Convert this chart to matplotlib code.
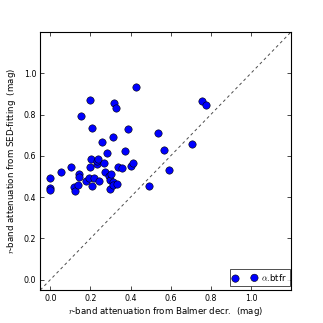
import numpy as np
import matplotlib
matplotlib.use('Agg')
import matplotlib.pyplot as plt

plt.rcParams['mathtext.fontset'] = 'cm'

# attenuation values
balmer = [0.0, 0.0, 0.0, 0.055, 0.102, 0.142, 0.145, 0.119, 0.121, 0.140,
          0.152, 0.180, 0.193, 0.200, 0.198, 0.205, 0.210, 0.208, 0.217, 0.233,
          0.233, 0.240, 0.245, 0.258, 0.268, 0.274, 0.284, 0.293, 0.298, 0.298,
          0.301, 0.312, 0.316, 0.326, 0.314, 0.311, 0.331, 0.337, 0.355, 0.372,
          0.388, 0.400, 0.410, 0.428, 0.493, 0.537, 0.567, 0.592, 0.706, 0.754,
          0.776]
sed = [0.495, 0.442, 0.434, 0.524, 0.545, 0.510, 0.497, 0.447, 0.431, 0.458,
       0.792, 0.476, 0.494, 0.871, 0.548, 0.585, 0.734, 0.452, 0.494, 0.560,
       0.576, 0.584, 0.479, 0.669, 0.566, 0.523, 0.613, 0.500, 0.482, 0.437,
       0.510, 0.689, 0.855, 0.834, 0.474, 0.460, 0.463, 0.544, 0.540, 0.623,
       0.729, 0.553, 0.566, 0.934, 0.456, 0.713, 0.627, 0.529, 0.656, 0.866,
       0.848]
lims = [-0.05, 1.2]
ticks = [0.0, 0.2, 0.4, 0.6, 0.8, 1.0]

fig = plt.figure(figsize=(3.23, 3.23), dpi=100)
ax = fig.add_axes([40.3/323, 1 - 290/323, 250.7/323, 258/323])

ax.scatter(balmer, sed, s=28, c='#0000ff', edgecolors='k', linewidths=0.4,
           label=r'$\alpha$.btfr', zorder=3)
ax.plot(lims, lims, ls='--', color='0.3', lw=0.7, dashes=(3, 3))

ax.set_xlim(lims)
ax.set_ylim(lims)
ax.set_xticks(ticks)
ax.set_yticks(ticks)
ax.tick_params(direction='in', top=True, right=True, labelsize=5.7,
               length=3, width=0.5, pad=3)
for sp in ax.spines.values():
    sp.set_linewidth(0.8)
ax.set_xlabel(r'$r$-band attenuation from Balmer decr.  (mag)', fontsize=6.2, labelpad=1)
ax.set_ylabel(r'$r$-band attenuation from SED-fitting  (mag)', fontsize=6.2, labelpad=4)

leg = ax.legend(loc='lower right', bbox_to_anchor=(0.996, 0.016), fontsize=6.2,
                scatterpoints=2, fancybox=False, handletextpad=0.5,
                handlelength=2.8, borderpad=0.35, borderaxespad=0)
leg.get_frame().set_edgecolor('k')
leg.get_frame().set_linewidth(0.6)

fig.savefig('out.png', dpi=100)
